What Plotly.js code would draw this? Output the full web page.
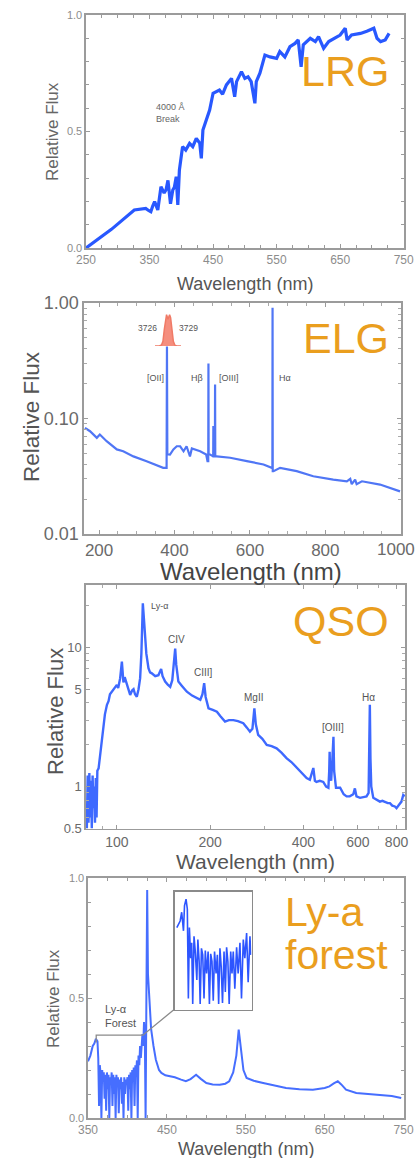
<!DOCTYPE html>
<html><head><meta charset="utf-8">
<script src="https://cdn.plot.ly/plotly-3.0.1.min.js"></script>
<style>html,body{margin:0;padding:0;background:#fff;}#chart{width:418px;height:1158px;}</style>
</head><body><div id="chart"></div>
<script>
// ---------- LRG ----------
const lrgWavelength = [250,290,326,335,344,349,352,355,358,363,368,373,376,379,383,386.6,389,392,394.5,397,402,407,413,418,423.6,429,431.5,434,439,444.6,450,455,460,465,471,479,484,487,494.7,500,505,510,515.8,518,523.7,531.6,539.6,550,555,563,571,579,584,588.6,592,603,611,616,624,632,640,650,658,661,668,682,692,703,708,713.6,721,727];
const lrgFlux = [0.0,0.08,0.163,0.165,0.17,0.16,0.156,0.18,0.199,0.163,0.263,0.236,0.25,0.29,0.19,0.249,0.26,0.306,0.185,0.335,0.435,0.42,0.449,0.435,0.47,0.45,0.385,0.506,0.549,0.592,0.664,0.67,0.678,0.66,0.70,0.728,0.649,0.714,0.757,0.728,0.735,0.714,0.621,0.714,0.75,0.828,0.82,0.814,0.843,0.82,0.864,0.878,0.893,0.778,0.872,0.90,0.886,0.907,0.857,0.886,0.90,0.914,0.943,0.893,0.914,0.921,0.93,0.943,0.90,0.886,0.893,0.921];
const lrgXTicks = [250,350,450,550,650,750];
const linearYTicks = [0,0.5,1];
const linearYTickText = ['0.0','0.5','1.0'];

// ---------- ELG ----------
const elgWavelength = [162.6,176,194,202,220,247,264,291,326,370,379,380,381,388,397,406,415,424,432,441,446,468,484,487.5,489.5,490,490.5,494.5,501.6,502.6,503,503.4,507.1,507.6,508.1,512,547.6,591.8,636,658,659.5,660,660.5,662.5,680,724,768,821,857,866,870,879,883,897,945,998];
const elgFlux = [0.083,0.0776,0.068,0.0726,0.0636,0.054,0.052,0.047,0.0427,0.0374,0.0374,0.42,0.049,0.0488,0.054,0.0575,0.0575,0.052,0.0575,0.047,0.055,0.052,0.0488,0.0427,0.0427,0.30,0.0488,0.0488,0.047,0.047,0.086,0.047,0.047,0.197,0.047,0.047,0.0457,0.0427,0.040,0.0374,0.0374,0.91,0.035,0.035,0.0374,0.035,0.0316,0.0296,0.0286,0.030,0.027,0.0296,0.027,0.0286,0.0268,0.0234];
const elgXTicks = [200,400,600,800,1000];
const elgXTickText = ['200','400','600','800',''];
const elgLastTickText = '1000';
const elgYTicks = [0.01,0.1,1];
const elgYTickText = ['0.01','0.10','1.00'];
// [OII] doublet inset (Angstrom)
const oiiWavelength = [3718,3721,3722.5,3723.5,3724.5,3725.3,3726,3727,3728.1,3728.8,3729.7,3730.7,3731.7,3733,3736];
const oiiFlux = [0,0,0.03,0.15,0.55,0.9,1.0,0.85,1.0,0.9,0.55,0.15,0.03,0,0];

// ---------- QSO ----------
const qsoWavelength = [80,80.5,81,81.5,82,82.5,83,83.5,84,84.5,85,85.5,86,86.5,87.3,88.3,89.5,90.6,91.5,92.9,94,95,96.4,98,100,101,102.5,103.8,105,106,107.7,109,110.4,112,113.2,114.5,116,117.5,118.9,120,121.3,122.3,123.4,124.5,126.5,128,129.7,133,136.2,139,140.5,143.2,146,148.7,151,153,154.3,155.5,158,162,168.3,175,181.3,186,189,191.4,193.5,197.7,204,210.4,216,223.5,230,237.8,246,256,263,269,274,278,281,286,295,304.8,316,328,340,353,366,381,395,410,420,431,436,441,452,464,474,482,485,486.5,488,492,496,500.5,503,510,526,540,552,565,580,587,594,610,625,640,650,653,656,659,663,673,690,707,720,735,750,762,775,790,800,815,830,841,850];
const qsoFlux = [0.5,1.2,0.55,1.25,0.6,1.1,0.5,1.2,0.7,1.0,0.55,1.15,0.6,1.3,1.35,1.69,2.3,2.93,3.3,3.86,4.1,4.6,4.8,5.1,5.37,5.1,6.0,7.9,5.6,6.1,5.37,5.0,4.55,4.9,5.0,4.6,4.42,5.0,6.0,9.0,20.7,16,12.2,9,7.07,6.6,6.5,6.2,6.3,7.0,6.2,5.67,5.4,5.2,5.8,7.5,9.8,7.5,5.67,5.3,4.8,4.5,4.3,4.2,4.6,5.52,4.4,3.65,3.55,3.45,3.2,2.93,3.0,3.0,2.95,2.85,2.65,2.48,2.6,3.65,2.8,2.35,2.2,1.99,1.95,1.88,1.75,1.6,1.5,1.36,1.25,1.15,1.12,1.36,1.1,1.08,1.1,1.08,1.0,0.98,1.3,1.78,1.3,1.1,1.5,2.28,1.3,0.98,0.98,0.88,0.85,0.85,0.88,0.97,0.85,0.83,0.84,0.85,0.9,1.5,3.86,1.6,1.0,0.83,0.8,0.78,0.79,0.77,0.76,0.76,0.73,0.72,0.70,0.74,0.78,0.87,0.85];
const qsoXTicks = [100,200,400,600,800];
const qsoYTicks = [0.5,1,5,10];
const qsoYTickText = ['0.5','1','5','10'];

// ---------- Ly-a forest ----------
const lyaWavelength = [350,353,356,358,360,362,363,364,365,366,367,368,369,370,371,372,373,374,375,376,377,378,379,380,381,382,383,384,385,386,387,388,389,390,391,392,393,394,395,396,397,398,399,400,401,402,403,404,405,406,407,408,409,410,411,412,413,414,415,416,417,418,419,420,421,422,423,424,425,426,428,430,433,436,440,443,448,453,460,468,474,480,487,493,500,508,517,524,529,534,538,541,544,547,551,560,572,585,601,618,635,650,656,662,666.6,671,677,690,705,720,735,747];
const lyaFlux = [0.236,0.26,0.30,0.31,0.33,0.32,0.25,0.05,0.22,0.18,0.0,0.20,0.15,0.19,0.08,0.18,0.03,0.19,0.12,0.18,0.0,0.17,0.14,0.19,0.05,0.18,0.10,0.17,0.0,0.18,0.13,0.17,0.02,0.16,0.12,0.17,0.06,0.15,0.0,0.17,0.10,0.16,0.14,0.17,0.03,0.18,0.12,0.19,0.0,0.20,0.15,0.21,0.05,0.22,0.18,0.24,0.0,0.26,0.22,0.30,0.25,0.32,0.35,0.30,0.40,0.35,0.0,0.5,0.95,0.6,0.45,0.37,0.30,0.243,0.20,0.188,0.178,0.174,0.17,0.16,0.153,0.162,0.18,0.163,0.146,0.14,0.139,0.143,0.153,0.19,0.26,0.368,0.28,0.20,0.167,0.155,0.146,0.138,0.125,0.12,0.118,0.125,0.132,0.145,0.153,0.14,0.118,0.104,0.10,0.097,0.092,0.083];
const lyaXTicks = [350,450,550,650,750];
// zoomed forest inset
const insetWavelength = [395.9,396.6,397.2,397.8,398.5,398.9,399.5,400.0,400.4,400.8,401.3,401.7,402.1,402.6,403.1,403.7,404.1,404.6,405.0,405.5,406.0,406.5,407.0,407.5,408.1,408.6,409.1,409.6,410.1,410.6,411.2,411.7,412.2,412.7,413.2,413.7,414.3,414.8,415.3,415.8,416.3,416.9,417.4,417.9,418.5,419.2,419.8,420.5,421.1,421.8,422.4,423.1,423.7,424.4,424.7];
const insetFlux = [0.73,0.76,0.79,0.87,0.70,0.93,0.99,0.90,0.08,0.73,0.45,0.59,0.03,0.65,0.51,0.25,0.62,0.42,0.03,0.54,0.48,0.08,0.52,0.31,0.51,0.03,0.49,0.42,0.06,0.51,0.31,0.48,0.03,0.54,0.37,0.04,0.51,0.14,0.55,0.42,0.03,0.51,0.31,0.51,0.17,0.55,0.31,0.59,0.08,0.62,0.45,0.68,0.23,0.65,0.48];

// ---------- layout helpers ----------
const W = 418, H = 1158;
const px = v => v / W;
const py = v => 1 - v / H;
const FONT = 'Liberation Sans, Arial, sans-serif';
const ORANGE = '#EA9E1E';

function frame(extra) {
  return Object.assign({
    showline: true, linecolor: '#9b9b9b', linewidth: 1.6, mirror: 'allticks',
    ticks: 'inside', ticklen: 4, tickwidth: 1, tickcolor: '#9b9b9b',
    showgrid: false, zeroline: false, fixedrange: true
  }, extra);
}

const traces = [
  {x: lrgWavelength, y: lrgFlux, xaxis: 'x', yaxis: 'y', type: 'scatter', mode: 'lines',
   line: {color: 'rgb(40,88,255)', width: 3.2}, hoverinfo: 'skip'},
  {x: elgWavelength, y: elgFlux, xaxis: 'x2', yaxis: 'y2', type: 'scatter', mode: 'lines',
   line: {color: 'rgb(80,118,245)', width: 2.2}, hoverinfo: 'skip'},
  {x: oiiWavelength, y: oiiFlux, xaxis: 'x5', yaxis: 'y5', type: 'scatter', mode: 'lines',
   fill: 'tozeroy', fillcolor: 'rgba(244,130,112,0.9)', line: {color: '#f07a66', width: 1.5}, hoverinfo: 'skip'},
  {x: qsoWavelength, y: qsoFlux, xaxis: 'x3', yaxis: 'y3', type: 'scatter', mode: 'lines',
   line: {color: 'rgb(62,105,255)', width: 2.4}, hoverinfo: 'skip'},
  {x: lyaWavelength, y: lyaFlux, xaxis: 'x4', yaxis: 'y4', type: 'scatter', mode: 'lines',
   line: {color: 'rgb(70,110,255)', width: 2.0}, hoverinfo: 'skip'},
  {x: insetWavelength, y: insetFlux, xaxis: 'x6', yaxis: 'y6', type: 'scatter', mode: 'lines',
   line: {color: 'rgb(45,85,255)', width: 1.6}, hoverinfo: 'skip'}
];

const tf = (size, color) => ({family: FONT, size: size, color: color});

const layout = {
  width: W, height: H, margin: {l: 0, r: 0, t: 0, b: 0},
  paper_bgcolor: '#fff', plot_bgcolor: 'rgba(0,0,0,0)', showlegend: false,
  font: {family: FONT},
  xaxis: frame({domain: [px(86), px(404)], anchor: 'y', range: [250, 750.5],
    tickmode: 'array', tickvals: lrgXTicks, tickfont: tf(12, '#8c8c8c'),
    minor: {dtick: 25, tick0: 250, ticks: 'inside', ticklen: 3, tickcolor: '#9b9b9b'}}),
  yaxis: frame({domain: [py(248), py(15)], anchor: 'x', range: [0, 1],
    tickmode: 'array', tickvals: linearYTicks, ticktext: linearYTickText, tickfont: tf(11, '#8c8c8c'),
    minor: {dtick: 0.1, tick0: 0, ticks: 'inside', ticklen: 3, tickcolor: '#9b9b9b'}}),

  xaxis2: frame({domain: [px(84), px(401)], anchor: 'y2', range: [160, 1000.6],
    tickmode: 'array', tickvals: elgXTicks, ticktext: elgXTickText, tickfont: tf(17, '#6a6a6a'),
    minor: {dtick: 50, tick0: 200, ticks: 'inside', ticklen: 3, tickcolor: '#aaa'}}),
  yaxis2: frame({domain: [py(534), py(303)], anchor: 'x2', type: 'log', range: [-2, 0],
    tickmode: 'array', tickvals: elgYTicks, ticktext: elgYTickText, tickfont: tf(18, '#6a6a6a'),
    minor: {dtick: 'D1', ticks: 'inside', ticklen: 3, tickcolor: '#aaa'}}),

  xaxis3: frame({domain: [px(86), px(405)], anchor: 'y3', type: 'log', range: [Math.log10(79.5), Math.log10(852)],
    tickmode: 'array', tickvals: qsoXTicks, tickfont: tf(14, '#6a6a6a'),
    minor: {dtick: 'D1', ticks: 'inside', ticklen: 3, tickcolor: '#aaa'}}),
  yaxis3: frame({domain: [py(828.5), py(585)], anchor: 'x3', type: 'log', range: [Math.log10(0.5), Math.log10(28)],
    tickmode: 'array', tickvals: qsoYTicks, ticktext: qsoYTickText, tickfont: tf(13, '#6a6a6a'),
    minor: {dtick: 'D1', ticks: 'inside', ticklen: 3, tickcolor: '#aaa'}}),

  xaxis4: frame({domain: [px(88), px(404)], anchor: 'y4', range: [350, 750.5],
    tickmode: 'array', tickvals: lyaXTicks, tickfont: tf(12, '#8c8c8c'),
    minor: {dtick: 25, tick0: 350, ticks: 'inside', ticklen: 3, tickcolor: '#9b9b9b'}}),
  yaxis4: frame({domain: [py(1118), py(878)], anchor: 'x4', range: [0, 1],
    tickmode: 'array', tickvals: linearYTicks, ticktext: linearYTickText, tickfont: tf(11, '#8c8c8c'),
    minor: {dtick: 0.1, tick0: 0, ticks: 'inside', ticklen: 3, tickcolor: '#9b9b9b'}}),

  xaxis5: {domain: [px(155), px(181)], anchor: 'y5', range: [3718, 3736], visible: false, fixedrange: true},
  yaxis5: {domain: [py(346), py(314)], anchor: 'x5', range: [0, 1.02], visible: false, fixedrange: true},

  xaxis6: {domain: [px(174.5), px(251.5)], anchor: 'y6', range: [395, 425], showline: true, mirror: true,
    linecolor: '#8a8a8a', linewidth: 1.5, ticks: '', showticklabels: false, showgrid: false, zeroline: false, fixedrange: true},
  yaxis6: {domain: [py(1009.5), py(891.5)], anchor: 'x6', range: [-0.02, 1.06], showline: true, mirror: true,
    linecolor: '#8a8a8a', linewidth: 1.5, ticks: '', showticklabels: false, showgrid: false, zeroline: false, fixedrange: true},

  shapes: [
    {type: 'path', xref: 'x4', yref: 'y4', path: 'M 360.4,0.315 L 360.4,0.345 L 419.5,0.345 L 458.8,0.451',
     line: {color: '#8a8a8a', width: 1.3}}
  ],
  annotations: []
};

const A = layout.annotations;
function txt(text, x, y, size, color, opts) {
  A.push(Object.assign({text: text, xref: 'paper', yref: 'paper', x: px(x), y: py(y),
    showarrow: false, font: tf(size, color), xanchor: 'center', yanchor: 'middle'}, opts || {}));
}
// last ELG tick label, kept inside the page edge
txt(elgLastTickText, 417, 549, 17, '#6a6a6a', {xanchor: 'right'});
// axis titles
txt('Wavelength (nm)', 245, 284, 18, '#555');
txt('Relative Flux', 53, 132, 17, '#666', {textangle: -90});
txt('Wavelength (nm)', 251, 571, 24, '#444');
txt('Relative Flux', 32, 417, 22.5, '#555', {textangle: -90});
txt('Wavelength (nm)', 255, 861, 21, '#555');
txt('Relative Flux', 55, 712, 22, '#555', {textangle: -90});
txt('Wavelength (nm)', 246, 1149, 18, '#555');
txt('Relative Flux', 53, 999, 17, '#666', {textangle: -90});
// big category labels
txt('LRG', 345, 71, 43, ORANGE);
txt('ELG', 345.5, 338, 43, ORANGE);
txt('QSO', 341, 621, 43, ORANGE);
txt('Ly-a', 283, 912, 41, ORANGE, {xanchor: 'left'});
txt('forest', 283, 955, 41, ORANGE, {xanchor: 'left'});
// LRG annotation
txt('4000 Å<br>Break', 154, 113, 9, '#666', {xanchor: 'left', align: 'left'});
// ELG line labels
txt('[OII]', 166, 378, 9, '#555', {xanchor: 'right'});
txt('Hβ', 205, 378, 9, '#555', {xanchor: 'right'});
txt('[OIII]', 217, 378, 9, '#555', {xanchor: 'left'});
txt('Hα', 277, 378, 9, '#555', {xanchor: 'left'});
txt('3726', 159, 328, 8.5, '#555', {xanchor: 'right'});
txt('3729', 177, 328, 8.5, '#555', {xanchor: 'left'});
// QSO line labels
txt('Ly-α', 159, 606, 9, '#555');
txt('CIV', 176, 639, 10, '#555');
txt('CIII]', 203, 672, 10, '#555');
txt('MgII', 253, 697, 10, '#555');
txt('[OIII]', 333, 727, 10, '#555');
txt('Hα', 368, 697, 10, '#555');
// Ly-a forest label
txt('Ly-α<br>Forest', 103, 1016, 11, '#555', {xanchor: 'left', align: 'left'});

Plotly.newPlot('chart', traces, layout, {staticPlot: true, displayModeBar: false});
</script>
</body></html>
